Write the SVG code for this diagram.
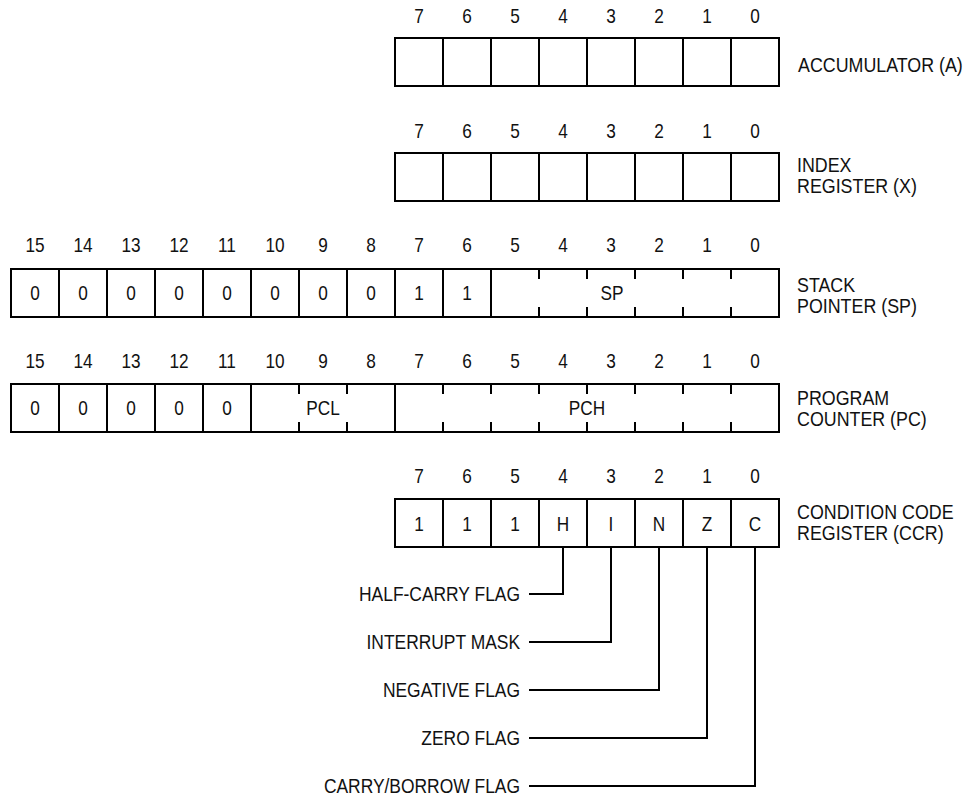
<svg xmlns="http://www.w3.org/2000/svg" width="970" height="797" viewBox="0 0 970 797">
<style>
  .bx { fill: none; stroke: #000; stroke-width: 2; }
  .ln { stroke: #000; stroke-width: 2; fill: none; }
  text { font-family: "Liberation Sans", Arial, sans-serif; fill: #111; }
  .num { font-size: 21px; text-anchor: middle; }
  .cell { font-size: 21px; text-anchor: middle; }
  .lbl { font-size: 21px; }
  .flag { font-size: 21px; text-anchor: end; }
</style>
<rect width="970" height="797" fill="#fff"/>

<g id="accumulator">
  <g class="num">
    <text transform="translate(419 23) scale(0.82 1)">7</text><text transform="translate(467 23) scale(0.82 1)">6</text>
    <text transform="translate(515 23) scale(0.82 1)">5</text><text transform="translate(563 23) scale(0.82 1)">4</text>
    <text transform="translate(611 23) scale(0.82 1)">3</text><text transform="translate(659 23) scale(0.82 1)">2</text>
    <text transform="translate(707 23) scale(0.82 1)">1</text><text transform="translate(755 23) scale(0.82 1)">0</text>
  </g>
  <rect class="bx" x="395" y="38" width="384" height="48"/>
  <path class="ln" d="M443 38V86M491 38V86M539 38V86M587 38V86M635 38V86M683 38V86M731 38V86"/>
  <text class="lbl" transform="translate(798 71.5) scale(0.85 1)">ACCUMULATOR (A)</text>
</g>

<g id="index-register">
  <g class="num">
    <text transform="translate(419 138) scale(0.82 1)">7</text><text transform="translate(467 138) scale(0.82 1)">6</text>
    <text transform="translate(515 138) scale(0.82 1)">5</text><text transform="translate(563 138) scale(0.82 1)">4</text>
    <text transform="translate(611 138) scale(0.82 1)">3</text><text transform="translate(659 138) scale(0.82 1)">2</text>
    <text transform="translate(707 138) scale(0.82 1)">1</text><text transform="translate(755 138) scale(0.82 1)">0</text>
  </g>
  <rect class="bx" x="395" y="153" width="384" height="48"/>
  <path class="ln" d="M443 153V201M491 153V201M539 153V201M587 153V201M635 153V201M683 153V201M731 153V201"/>
  <text class="lbl" transform="translate(797 171.5) scale(0.85 1)">INDEX</text>
  <text class="lbl" transform="translate(797 192.5) scale(0.85 1)">REGISTER (X)</text>
</g>

<g id="stack-pointer">
  <g class="num">
    <text transform="translate(35 252) scale(0.82 1)">15</text><text transform="translate(83 252) scale(0.82 1)">14</text>
    <text transform="translate(131 252) scale(0.82 1)">13</text><text transform="translate(179 252) scale(0.82 1)">12</text>
    <text transform="translate(227 252) scale(0.82 1)">11</text><text transform="translate(275 252) scale(0.82 1)">10</text>
    <text transform="translate(323 252) scale(0.82 1)">9</text><text transform="translate(371 252) scale(0.82 1)">8</text>
    <text transform="translate(419 252) scale(0.82 1)">7</text><text transform="translate(467 252) scale(0.82 1)">6</text>
    <text transform="translate(515 252) scale(0.82 1)">5</text><text transform="translate(563 252) scale(0.82 1)">4</text>
    <text transform="translate(611 252) scale(0.82 1)">3</text><text transform="translate(659 252) scale(0.82 1)">2</text>
    <text transform="translate(707 252) scale(0.82 1)">1</text><text transform="translate(755 252) scale(0.82 1)">0</text>
  </g>
  <rect class="bx" x="11" y="269" width="768" height="48"/>
  <path class="ln" d="M59 269V317M107 269V317M155 269V317M203 269V317M251 269V317M299 269V317M347 269V317M395 269V317M443 269V317M491 269V317"/>
  <path class="ln" d="M539 269V279M587 269V279M635 269V279M683 269V279M731 269V279M539 317V307M587 317V307M635 317V307M683 317V307M731 317V307"/>
  <g class="cell">
    <text transform="translate(35 299.5) scale(0.82 1)">0</text><text transform="translate(83 299.5) scale(0.82 1)">0</text>
    <text transform="translate(131 299.5) scale(0.82 1)">0</text><text transform="translate(179 299.5) scale(0.82 1)">0</text>
    <text transform="translate(227 299.5) scale(0.82 1)">0</text><text transform="translate(275 299.5) scale(0.82 1)">0</text>
    <text transform="translate(323 299.5) scale(0.82 1)">0</text><text transform="translate(371 299.5) scale(0.82 1)">0</text>
    <text transform="translate(419 299.5) scale(0.82 1)">1</text><text transform="translate(467 299.5) scale(0.82 1)">1</text>
    <text transform="translate(612 299.5) scale(0.82 1)">SP</text>
  </g>
  <text class="lbl" transform="translate(797 291.5) scale(0.85 1)">STACK</text>
  <text class="lbl" transform="translate(797 312.5) scale(0.85 1)">POINTER (SP)</text>
</g>

<g id="program-counter">
  <g class="num">
    <text transform="translate(35 368) scale(0.82 1)">15</text><text transform="translate(83 368) scale(0.82 1)">14</text>
    <text transform="translate(131 368) scale(0.82 1)">13</text><text transform="translate(179 368) scale(0.82 1)">12</text>
    <text transform="translate(227 368) scale(0.82 1)">11</text><text transform="translate(275 368) scale(0.82 1)">10</text>
    <text transform="translate(323 368) scale(0.82 1)">9</text><text transform="translate(371 368) scale(0.82 1)">8</text>
    <text transform="translate(419 368) scale(0.82 1)">7</text><text transform="translate(467 368) scale(0.82 1)">6</text>
    <text transform="translate(515 368) scale(0.82 1)">5</text><text transform="translate(563 368) scale(0.82 1)">4</text>
    <text transform="translate(611 368) scale(0.82 1)">3</text><text transform="translate(659 368) scale(0.82 1)">2</text>
    <text transform="translate(707 368) scale(0.82 1)">1</text><text transform="translate(755 368) scale(0.82 1)">0</text>
  </g>
  <rect class="bx" x="11" y="384" width="768" height="48"/>
  <path class="ln" d="M59 384V432M107 384V432M155 384V432M203 384V432M251 384V432M395 384V432"/>
  <path class="ln" d="M299 384V394M347 384V394M299 432V422M347 432V422M443 384V394M491 384V394M539 384V394M587 384V394M635 384V394M683 384V394M731 384V394M443 432V422M491 432V422M539 432V422M587 432V422M635 432V422M683 432V422M731 432V422"/>
  <g class="cell">
    <text transform="translate(35 414.5) scale(0.82 1)">0</text><text transform="translate(83 414.5) scale(0.82 1)">0</text>
    <text transform="translate(131 414.5) scale(0.82 1)">0</text><text transform="translate(179 414.5) scale(0.82 1)">0</text>
    <text transform="translate(227 414.5) scale(0.82 1)">0</text>
    <text transform="translate(323 414.5) scale(0.82 1)">PCL</text><text transform="translate(587 414.5) scale(0.82 1)">PCH</text>
  </g>
  <text class="lbl" transform="translate(797 405) scale(0.85 1)">PROGRAM</text>
  <text class="lbl" transform="translate(797 426) scale(0.85 1)">COUNTER (PC)</text>
</g>

<g id="condition-code-register">
  <g class="num">
    <text transform="translate(419 483) scale(0.82 1)">7</text><text transform="translate(467 483) scale(0.82 1)">6</text>
    <text transform="translate(515 483) scale(0.82 1)">5</text><text transform="translate(563 483) scale(0.82 1)">4</text>
    <text transform="translate(611 483) scale(0.82 1)">3</text><text transform="translate(659 483) scale(0.82 1)">2</text>
    <text transform="translate(707 483) scale(0.82 1)">1</text><text transform="translate(755 483) scale(0.82 1)">0</text>
  </g>
  <rect class="bx" x="395" y="499" width="384" height="48"/>
  <path class="ln" d="M443 499V547M491 499V547M539 499V547M587 499V547M635 499V547M683 499V547M731 499V547"/>
  <g class="cell">
    <text transform="translate(419 531) scale(0.82 1)">1</text><text transform="translate(467 531) scale(0.82 1)">1</text>
    <text transform="translate(515 531) scale(0.82 1)">1</text><text transform="translate(563 531) scale(0.82 1)">H</text>
    <text transform="translate(611 531) scale(0.82 1)">I</text><text transform="translate(659 531) scale(0.82 1)">N</text>
    <text transform="translate(707 531) scale(0.82 1)">Z</text><text transform="translate(755 531) scale(0.82 1)">C</text>
  </g>
  <text class="lbl" transform="translate(797 518.5) scale(0.85 1)">CONDITION CODE</text>
  <text class="lbl" transform="translate(797 539.5) scale(0.85 1)">REGISTER (CCR)</text>
</g>

<g id="flag-labels">
  <text class="flag" transform="translate(520 601) scale(0.83 1)">HALF-CARRY FLAG</text>
  <text class="flag" transform="translate(520 649) scale(0.83 1)">INTERRUPT MASK</text>
  <text class="flag" transform="translate(520 697) scale(0.83 1)">NEGATIVE FLAG</text>
  <text class="flag" transform="translate(520 745) scale(0.83 1)">ZERO FLAG</text>
  <text class="flag" transform="translate(520 793) scale(0.83 1)">CARRY/BORROW FLAG</text>
</g>

<g id="connectors">
  <path class="ln" d="M563 547V594H529"/>
  <path class="ln" d="M611 547V642H529"/>
  <path class="ln" d="M659 547V690H529"/>
  <path class="ln" d="M707 547V738H529"/>
  <path class="ln" d="M755 547V786H529"/>
</g>
</svg>
